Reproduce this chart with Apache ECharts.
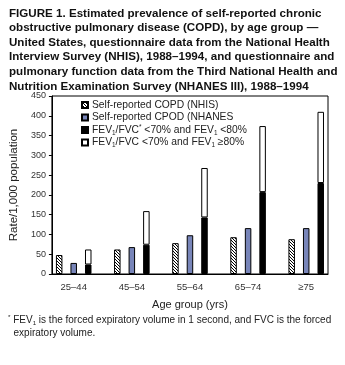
<!DOCTYPE html>
<html><head><meta charset="utf-8">
<script src="https://cdn.jsdelivr.net/npm/echarts@6/dist/echarts.min.js"></script>
<style>html,body{margin:0;padding:0;background:#fff}#c{width:345px;height:365px}</style>
</head><body><div id="c"></div>
<script>
var ageGroups = ['25\u201344', '45\u201354', '55\u201364', '65\u201374', '\u226575'];
var nhisCOPD = [48, 62, 78, 93, 88];
var nhanesCOPD = [28, 68, 98, 116, 116];
var fevLow80 = [24, 74, 143, 207, 230];
var fevHigh80 = [38, 85, 125, 167, 180];
var yTicks = [0, 50, 100, 150, 200, 250, 300, 350, 400, 450];

// build slot categories: 3 bar slots per group plus a gap slot between groups
var slots = [], slotGroup = [], slotPos = [];
ageGroups.forEach(function (g, i) {
  for (var k = 0; k < 3; k++) { slots.push('s' + i + '_' + k); slotGroup.push(i); slotPos.push(k); }
  if (i < ageGroups.length - 1) { slots.push('gap' + i); slotGroup.push(i); slotPos.push(-1); }
});
function slotData(arr, pos) {
  return slots.map(function (s, j) { return slotPos[j] === pos ? arr[slotGroup[j]] : '-'; });
}

var pc = document.createElement('canvas');
pc.width = 3; pc.height = 3;
var px = pc.getContext('2d');
px.fillStyle = '#fff'; px.fillRect(0, 0, 3, 3);
px.fillStyle = '#000';
px.fillRect(0, 0, 1, 1); px.fillRect(1, 1, 1, 1); px.fillRect(2, 2, 1, 1);
var hatch = { image: pc, repeat: 'repeat' };

var chart = echarts.init(document.getElementById('c'), null, { renderer: 'canvas' });
var font = 'Liberation Sans, Arial, sans-serif';
function mkRich(fs) {
  return {
    sub: { fontSize: fs * 0.62, verticalAlign: 'bottom', padding: [3, 0, 0, 0], lineHeight: 12, fontFamily: font, color: '#222' },
    sup: { fontSize: fs * 0.62, verticalAlign: 'top', padding: [0, 0, 3, 0], lineHeight: 12, fontFamily: font, color: '#222' }
  };
}
var names = ['Self-reported COPD (NHIS)', 'Self-reported CPOD (NHANES', 'FEVlow', 'FEVhigh'];
var legendLabels = {
  'Self-reported COPD (NHIS)': 'Self-reported COPD (NHIS)',
  'Self-reported CPOD (NHANES': 'Self-reported CPOD (NHANES',
  'FEVlow': 'FEV{sub|1}/FVC{sup|*} <70% and FEV{sub|1} <80%',
  'FEVhigh': 'FEV{sub|1}/FVC <70% and FEV{sub|1} \u226580%'
};
var barBase = { type: 'bar', barWidth: 6.5, barGap: '-100%', itemStyle: { borderColor: '#000', borderWidth: 1 } };
function bar(o) { return Object.assign({}, barBase, o, { itemStyle: Object.assign({}, barBase.itemStyle, o.itemStyle) }); }

chart.setOption({
  animation: false,
  textStyle: { fontFamily: font },
  title: {
    left: 9, top: 6, padding: 0,
    text: 'FIGURE 1. Estimated prevalence of self-reported chronic\nobstructive pulmonary disease (COPD), by age group \u2014\nUnited States, questionnaire data from the National Health\nInterview Survey (NHIS), 1988\u20131994, and questionnaire and\npulmonary function data from the Third National Health and\nNutrition Examination Survey (NHANES III), 1988\u20131994',
    textStyle: { fontFamily: font, fontWeight: 'bold', fontSize: 11.6, lineHeight: 14.6, color: '#111' }
  },
  legend: {
    orient: 'vertical', left: 81, top: 99, padding: 0, itemWidth: 6, itemHeight: 6, itemGap: 0.5,
    icon: 'rect',
    data: names,
    formatter: function (n) { return legendLabels[n]; },
    textStyle: { fontFamily: font, fontSize: 10.3, lineHeight: 12, color: '#222', padding: [0, 0, 0, -1], rich: mkRich(10.3) }
  },
  grid: { left: 50, right: 17, top: 96, bottom: 91, show: true, borderColor: '#000', borderWidth: 1, backgroundColor: 'transparent' },
  xAxis: {
    type: 'category', data: slots,
    name: 'Age group (yrs)', nameLocation: 'middle', nameGap: 25,
    nameTextStyle: { fontFamily: font, fontSize: 11, color: '#222' },
    axisLine: { lineStyle: { color: '#000', width: 1 } },
    axisTick: { alignWithLabel: true, length: 3, lineStyle: { color: '#000' },
      interval: function (idx) { return slotPos[idx] >= 0; } },
    axisLabel: { fontFamily: font, fontSize: 9.5, color: '#333', margin: 8,
      interval: function (idx) { return slotPos[idx] === 1; },
      formatter: function (v, idx) { return ageGroups[slotGroup[idx]]; } }
  },
  yAxis: {
    type: 'value', min: yTicks[0], max: yTicks[yTicks.length - 1], interval: 50,
    name: 'Rate/1,000 population', nameLocation: 'middle', nameGap: 30,
    nameTextStyle: { fontFamily: font, fontSize: 11.5, color: '#222' },
    axisLine: { show: true, lineStyle: { color: '#000', width: 1 } },
    axisTick: { show: true, length: 3, lineStyle: { color: '#000' } },
    splitLine: { show: false },
    axisLabel: { fontFamily: font, fontSize: 9, color: '#333', margin: 6 }
  },
  series: [
    bar({ name: names[0], data: slotData(nhisCOPD, 0), itemStyle: { color: hatch } }),
    bar({ name: names[1], data: slotData(nhanesCOPD, 1), itemStyle: { color: '#7885b9' } }),
    bar({ name: names[2], stack: 'fev', data: slotData(fevLow80, 2), itemStyle: { color: '#000' } }),
    bar({ name: names[3], stack: 'fev', data: slotData(fevHigh80, 2), itemStyle: { color: '#fff' } })
  ],
  graphic: [{
    type: 'text', left: 8, top: 314,
    style: {
      text: '{sup|*} FEV{sub|1} is the forced expiratory volume in 1 second, and FVC is the forced\n  expiratory volume.',
      fontFamily: font, fontSize: 10, lineHeight: 12.5, fill: '#222', rich: mkRich(10)
    }
  }]
});
</script></body></html>
